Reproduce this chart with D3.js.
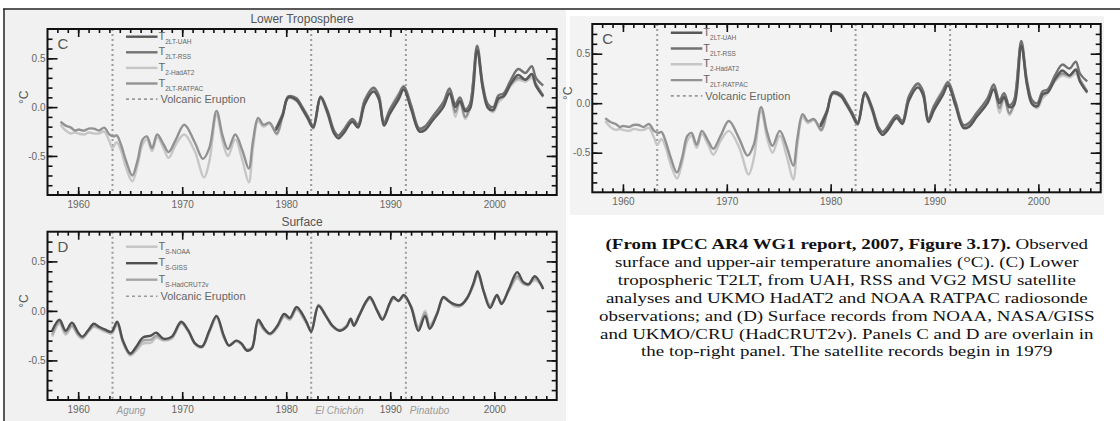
<!DOCTYPE html>
<html>
<head>
<meta charset="utf-8">
<title>IPCC AR4 Fig 3.17</title>
<script src="https://cdn.jsdelivr.net/npm/d3@7"></script>
<style>
  body { margin:0; background:#fff; }
  svg { display:block; }
</style>
</head>
<body>
<svg width="1120" height="421" font-family="Liberation Sans, Arial, sans-serif"></svg>
<script>
// ---- data ----
var xTicksLabelled = [1960, 1970, 1980, 1990, 2000];
var yTicksLabelled = [-0.5, 0.0, 0.5];

var volcanoYears = [1963.3, 1982.4, 1991.5];
var volcanoNames = ["Agung", "El Chichón", "Pinatubo"];

// panel C : lower troposphere
var t2ltRatpac = [[1958.3,-0.15],[1958.8,-0.19],[1959.3,-0.21],[1959.7,-0.24],[1960.0,-0.23],[1960.6,-0.24],[1961.0,-0.22],[1961.5,-0.22],[1962.0,-0.24],[1962.5,-0.21],[1963.0,-0.28],[1963.4,-0.30],[1963.7,-0.29],[1964.1,-0.38],[1964.6,-0.55],[1965.2,-0.70],[1965.7,-0.55],[1966.2,-0.33],[1966.6,-0.30],[1967.1,-0.42],[1967.6,-0.28],[1968.2,-0.38],[1968.7,-0.46],[1969.4,-0.33],[1970.2,-0.18],[1971.2,-0.36],[1972.0,-0.53],[1972.6,-0.42],[1973.3,-0.04],[1973.9,-0.30],[1974.4,-0.43],[1975.1,-0.28],[1975.8,-0.45],[1976.4,-0.63],[1976.8,-0.35],[1977.3,-0.11],[1977.8,-0.18],[1978.4,-0.16],[1979.1,-0.27],[1979.65,-0.08],[1980.2,0.10],[1981.0,0.08],[1981.5,0.00],[1982.05,-0.10],[1982.6,-0.20],[1983.3,0.10],[1983.95,-0.05],[1984.6,-0.25],[1985.0,-0.29],[1985.5,-0.24],[1986.35,-0.13],[1986.9,-0.19],[1987.55,0.06],[1988.4,0.19],[1988.9,0.10],[1989.4,-0.17],[1989.95,-0.04],[1990.8,0.12],[1991.3,0.21],[1992.0,0.00],[1992.8,-0.24],[1993.3,-0.22],[1994.05,-0.11],[1995.1,0.03],[1995.7,0.17],[1996.25,-0.05],[1996.7,0.07],[1997.2,-0.10],[1997.65,0.00],[1998.35,0.60],[1998.9,0.20],[1999.4,0.01],[1999.9,-0.03],[2000.4,0.08],[2000.9,0.12],[2001.6,0.24],[2002.3,0.30],[2003.0,0.28],[2003.6,0.33],[2004.0,0.24],[2004.7,0.12]];
var t2HadAT2 = [[1958.3,-0.18],[1958.8,-0.24],[1959.3,-0.27],[1959.7,-0.26],[1960.0,-0.27],[1960.6,-0.28],[1961.0,-0.26],[1961.5,-0.27],[1962.0,-0.27],[1962.5,-0.25],[1963.0,-0.35],[1963.3,-0.42],[1963.7,-0.36],[1964.1,-0.44],[1964.6,-0.62],[1965.2,-0.76],[1965.7,-0.60],[1966.2,-0.38],[1966.6,-0.33],[1967.1,-0.45],[1967.6,-0.31],[1968.2,-0.42],[1968.7,-0.52],[1969.4,-0.38],[1970.2,-0.28],[1971.2,-0.45],[1972.1,-0.72],[1972.6,-0.56],[1973.3,-0.08],[1973.9,-0.36],[1974.4,-0.50],[1975.1,-0.33],[1975.8,-0.55],[1976.4,-0.77],[1976.8,-0.42],[1977.3,-0.14],[1977.8,-0.20],[1978.4,-0.17],[1979.1,-0.28],[1979.65,-0.10],[1980.2,0.09],[1981.0,0.06],[1981.5,-0.02],[1982.05,-0.12],[1982.6,-0.22],[1983.3,0.08],[1983.95,-0.07],[1984.6,-0.27],[1985.0,-0.30],[1985.5,-0.23],[1986.35,-0.12],[1986.9,-0.18],[1987.55,0.08],[1988.4,0.20],[1988.9,0.12],[1989.4,-0.15],[1989.95,-0.02],[1990.8,0.14],[1991.3,0.22],[1992.0,0.02],[1992.8,-0.25],[1993.3,-0.22],[1994.05,-0.12],[1995.1,0.02],[1995.7,0.15],[1996.25,-0.10],[1996.7,0.05],[1997.2,-0.12],[1997.65,-0.02],[1998.35,0.58],[1998.9,0.18],[1999.4,-0.01],[1999.9,-0.05],[2000.4,0.05],[2000.9,0.10],[2001.6,0.22],[2002.3,0.28],[2003.0,0.26],[2003.6,0.30],[2004.0,0.22],[2004.7,0.10]];
var t2ltUah = [[1979.0,-0.24],[1979.65,-0.09],[1980.2,0.10],[1981.0,0.07],[1981.5,-0.01],[1982.05,-0.11],[1982.6,-0.21],[1983.3,0.10],[1983.95,-0.05],[1984.6,-0.27],[1985.0,-0.32],[1985.5,-0.27],[1986.35,-0.15],[1986.9,-0.21],[1987.55,0.03],[1988.4,0.16],[1988.9,0.08],[1989.4,-0.19],[1989.95,-0.07],[1990.8,0.08],[1991.3,0.18],[1992.0,-0.02],[1992.8,-0.25],[1993.3,-0.24],[1994.05,-0.14],[1995.1,0.00],[1995.7,0.14],[1996.25,0.00],[1996.7,0.06],[1997.2,-0.04],[1997.65,-0.02],[1998.35,0.58],[1998.9,0.19],[1999.4,-0.01],[1999.9,-0.03],[2000.4,0.09],[2000.9,0.11],[2001.6,0.24],[2002.3,0.33],[2003.0,0.28],[2003.6,0.34],[2004.0,0.22],[2004.7,0.11]];
var t2ltRss = [[1979.0,-0.22],[1979.65,-0.07],[1980.2,0.11],[1981.0,0.09],[1981.5,0.01],[1982.05,-0.09],[1982.6,-0.19],[1983.3,0.11],[1983.95,-0.03],[1984.6,-0.24],[1985.0,-0.29],[1985.5,-0.24],[1986.35,-0.12],[1986.9,-0.18],[1987.55,0.07],[1988.4,0.20],[1988.9,0.12],[1989.4,-0.16],[1989.95,-0.03],[1990.8,0.12],[1991.3,0.21],[1992.0,0.02],[1992.8,-0.22],[1993.3,-0.20],[1994.05,-0.10],[1995.1,0.05],[1995.7,0.19],[1996.25,0.03],[1996.7,0.10],[1997.2,-0.02],[1997.65,0.03],[1998.35,0.63],[1998.9,0.23],[1999.4,0.03],[1999.9,0.00],[2000.4,0.12],[2000.9,0.14],[2001.6,0.28],[2002.3,0.39],[2003.0,0.35],[2003.6,0.42],[2004.0,0.30],[2004.7,0.22]];

// panel D : surface
var tsGiss = [[1957.5,-0.20],[1958.2,-0.09],[1958.8,-0.20],[1959.4,-0.12],[1960.0,-0.22],[1960.4,-0.26],[1961.0,-0.19],[1961.5,-0.13],[1962.0,-0.16],[1962.6,-0.19],[1963.2,-0.21],[1963.75,-0.11],[1964.3,-0.30],[1965.0,-0.43],[1965.6,-0.36],[1966.2,-0.27],[1967.0,-0.25],[1967.5,-0.22],[1968.2,-0.28],[1969.0,-0.26],[1969.9,-0.11],[1970.6,-0.20],[1971.25,-0.33],[1971.9,-0.36],[1972.6,-0.20],[1973.3,-0.05],[1974.0,-0.25],[1974.5,-0.35],[1975.2,-0.30],[1975.7,-0.33],[1976.2,-0.40],[1976.7,-0.38],[1977.3,-0.09],[1977.9,-0.18],[1978.45,-0.23],[1979.15,-0.15],[1979.8,-0.03],[1980.35,-0.07],[1981.0,0.04],[1981.9,-0.10],[1982.4,-0.21],[1983.1,0.05],[1983.8,-0.05],[1984.45,-0.15],[1985.15,-0.20],[1985.8,-0.16],[1986.2,-0.08],[1986.5,-0.15],[1987.0,-0.05],[1987.7,0.10],[1988.05,0.14],[1988.75,0.00],[1989.25,-0.09],[1989.95,0.08],[1990.3,0.14],[1990.8,0.10],[1991.3,0.16],[1992.0,0.04],[1992.7,-0.20],[1993.35,-0.05],[1993.8,-0.18],[1994.5,-0.03],[1995.1,0.14],[1995.6,0.10],[1996.1,0.07],[1996.75,0.06],[1997.4,0.13],[1998.0,0.28],[1998.4,0.40],[1999.0,0.19],[1999.6,0.03],[2000.25,0.16],[2000.7,0.07],[2001.4,0.22],[2002.2,0.39],[2002.8,0.29],[2003.3,0.27],[2003.9,0.35],[2004.7,0.22]];
var tsNoaa = [[1957.5,-0.26],[1958.2,-0.13],[1958.8,-0.24],[1959.4,-0.16],[1960.0,-0.25],[1960.4,-0.28],[1961.0,-0.21],[1961.5,-0.16],[1962.0,-0.18],[1962.6,-0.21],[1963.2,-0.23],[1963.75,-0.14],[1964.3,-0.32],[1965.0,-0.45],[1965.6,-0.40],[1966.2,-0.33],[1967.0,-0.32],[1967.5,-0.27],[1968.2,-0.30],[1969.0,-0.28],[1969.9,-0.13],[1970.6,-0.21],[1971.25,-0.34],[1971.9,-0.37],[1972.6,-0.22],[1973.3,-0.07],[1974.0,-0.27],[1974.5,-0.35],[1975.2,-0.31],[1975.7,-0.34],[1976.2,-0.40],[1976.7,-0.37],[1977.3,-0.12],[1977.9,-0.20],[1978.45,-0.24],[1979.15,-0.17],[1979.8,-0.06],[1980.35,-0.09],[1981.0,0.01],[1981.9,-0.12],[1982.4,-0.19],[1983.1,0.06],[1983.8,-0.04],[1984.45,-0.15],[1985.15,-0.19],[1985.8,-0.15],[1986.2,-0.09],[1986.5,-0.13],[1987.0,-0.04],[1987.7,0.09],[1988.05,0.12],[1988.75,0.01],[1989.25,-0.07],[1989.95,0.07],[1990.3,0.12],[1990.8,0.11],[1991.3,0.14],[1992.0,0.05],[1992.7,-0.16],[1993.35,0.00],[1993.8,-0.14],[1994.5,-0.02],[1995.1,0.14],[1995.6,0.11],[1996.1,0.05],[1996.75,0.05],[1997.4,0.14],[1998.0,0.27],[1998.4,0.36],[1999.0,0.20],[1999.6,0.06],[2000.25,0.15],[2000.7,0.09],[2001.4,0.20],[2002.2,0.33],[2002.8,0.27],[2003.3,0.27],[2003.9,0.31],[2004.7,0.24]];
var tsHadcrut = [[1957.5,-0.24],[1958.2,-0.11],[1958.8,-0.22],[1959.4,-0.15],[1960.0,-0.24],[1960.4,-0.27],[1961.0,-0.20],[1961.5,-0.15],[1962.0,-0.17],[1962.6,-0.20],[1963.2,-0.22],[1963.75,-0.13],[1964.3,-0.31],[1965.0,-0.44],[1965.6,-0.38],[1966.2,-0.30],[1967.0,-0.29],[1967.5,-0.25],[1968.2,-0.29],[1969.0,-0.27],[1969.9,-0.12],[1970.6,-0.21],[1971.25,-0.33],[1971.9,-0.36],[1972.6,-0.21],[1973.3,-0.06],[1974.0,-0.26],[1974.5,-0.35],[1975.2,-0.30],[1975.7,-0.33],[1976.2,-0.39],[1976.7,-0.37],[1977.3,-0.11],[1977.9,-0.19],[1978.45,-0.23],[1979.15,-0.16],[1979.8,-0.05],[1980.35,-0.08],[1981.0,0.02],[1981.9,-0.11],[1982.4,-0.20],[1983.1,0.06],[1983.8,-0.05],[1984.45,-0.16],[1985.15,-0.20],[1985.8,-0.15],[1986.2,-0.09],[1986.5,-0.14],[1987.0,-0.05],[1987.7,0.09],[1988.05,0.13],[1988.75,0.00],[1989.25,-0.08],[1989.95,0.07],[1990.3,0.13],[1990.8,0.10],[1991.3,0.15],[1992.0,0.04],[1992.7,-0.17],[1993.35,-0.02],[1993.8,-0.16],[1994.5,-0.03],[1995.1,0.13],[1995.6,0.10],[1996.1,0.06],[1996.75,0.05],[1997.4,0.13],[1998.0,0.26],[1998.4,0.38],[1999.0,0.19],[1999.6,0.05],[2000.25,0.15],[2000.7,0.08],[2001.4,0.21],[2002.2,0.35],[2002.8,0.28],[2003.3,0.26],[2003.9,0.33],[2004.7,0.23]];

var captionLines = [
  ["(From IPCC AR4 WG1 report, 2007, Figure 3.17).", " Observed"],
  ["", "surface and upper-air temperature anomalies (°C). (C) Lower"],
  ["", "tropospheric T2LT, from UAH, RSS and VG2 MSU satellite"],
  ["", "analyses and UKMO HadAT2 and NOAA RATPAC radiosonde"],
  ["", "observations; and (D) Surface records from NOAA, NASA/GISS"],
  ["", "and UKMO/CRU (HadCRUT2v).  Panels C and D are overlain in"],
  ["", "the top-right panel.  The satellite records begin in 1979"]
];

// ---- series styling ----
var seriesC = [
  {data:t2HadAT2,   color:"#c6c6c6", sub:"2-HadAT2"},
  {data:t2ltRatpac, color:"#929292", sub:"2LT-RATPAC"},
  {data:t2ltRss,    color:"#727272", sub:"2LT-RSS"},
  {data:t2ltUah,    color:"#585858", sub:"2LT-UAH"}
];
var legendOrderC = [3, 2, 0, 1];
var seriesD = [
  {data:tsNoaa,    color:"#c4c4c4", sub:"S-NOAA"},
  {data:tsHadcrut, color:"#a6a6a6", sub:"S-HadCRUT2v"},
  {data:tsGiss,    color:"#505050", sub:"S-GISS"}
];
var legendOrderD = [0, 2, 1];

var svg = d3.select("svg");

// page furniture
svg.append("rect").attr("x",5).attr("y",10).attr("width",561).attr("height",411).attr("fill","#f1f1f1");
svg.append("rect").attr("x",570).attr("y",16).attr("width",534).attr("height",199).attr("fill","#f3f3f3");
svg.append("line").attr("x1",3).attr("x2",1120).attr("y1",9).attr("y2",9).attr("stroke","#222").attr("stroke-width",1.5);
svg.append("line").attr("x1",4).attr("x2",4).attr("y1",9).attr("y2",421).attr("stroke","#222").attr("stroke-width",1.5);

var panels = [
  {left:47.5, right:556.7, top:29,    bottom:195,   title:"Lower Troposphere", letter:"C", series:seriesC, order:legendOrderC, legTop:7.7,  legGap:15.6, names:false},
  {left:47.5, right:556.7, top:231.7, bottom:400,   title:"Surface",           letter:"D", series:seriesD, order:legendOrderD, legTop:15,   legGap:16.5, names:true},
  {left:592.3, right:1100.7, top:24,  bottom:192.3, title:null,                letter:"C", series:seriesC, order:legendOrderC, legTop:8.7,  legGap:15.8, names:false}
];

panels.forEach(function(p, pi){
  var x = d3.scaleLinear().domain([1957.05, 2006]).range([p.left, p.right]);
  var y = d3.scaleLinear().domain([-0.9, 0.8]).range([p.bottom, p.top]);
  var g = svg.append("g");
  var clipId = "clip" + pi;
  g.append("clipPath").attr("id", clipId).append("rect")
    .attr("x", p.left).attr("y", p.top).attr("width", p.right-p.left).attr("height", p.bottom-p.top);

  if (p.title) {
    g.append("text").attr("x", (p.left+p.right)/2).attr("y", p.top-6)
      .attr("text-anchor","middle").attr("font-size",12).attr("fill","#555").text(p.title);
  }

  // volcanic eruptions
  g.selectAll(".volc").data(volcanoYears).enter().append("line")
    .attr("x1", function(d){return x(d);}).attr("x2", function(d){return x(d);})
    .attr("y1", p.top).attr("y2", p.bottom)
    .attr("stroke","#9a9a9a").attr("stroke-width",2).attr("stroke-dasharray","2,3");

  if (p.names) {
    g.selectAll(".vname").data(volcanoNames).enter().append("text")
      .attr("x", function(d,i){return x(volcanoYears[i]) + 4;})
      .attr("y", p.bottom + 14)
      .attr("font-size",10).attr("font-style","italic").attr("fill","#9a9a9a")
      .text(function(d){return d;});
  }

  // series
  var line = d3.line().x(function(d){return x(d[0]);}).y(function(d){return y(d[1]);})
    .curve(d3.curveCatmullRom.alpha(0.5));
  g.append("g").attr("clip-path","url(#"+clipId+")")
    .selectAll("path").data(p.series).enter().append("path")
    .attr("d", function(s){return line(s.data);})
    .attr("fill","none").attr("stroke", function(s){return s.color;})
    .attr("stroke-width",2.4).attr("stroke-linejoin","round");

  // axes with inward ticks
  var yearTicks = d3.range(1958, 2006);
  var tenthTicks = d3.range(-8, 8).map(function(i){return i/10;});
  function strip(sel){ sel.select(".domain").remove(); sel.selectAll("line").attr("stroke","#111").attr("stroke-width",1.6); }

  g.append("g").attr("transform","translate(0,"+p.bottom+")")
    .call(d3.axisBottom(x).tickValues(yearTicks).tickSize(-4).tickFormat("")).call(strip);
  g.append("g").attr("transform","translate(0,"+p.top+")")
    .call(d3.axisTop(x).tickValues(yearTicks).tickSize(-4).tickFormat("")).call(strip);
  var xb = g.append("g").attr("transform","translate(0,"+p.bottom+")")
    .call(d3.axisBottom(x).tickValues(xTicksLabelled).tickSize(-8).tickPadding(6).tickFormat(d3.format("d")));
  strip(xb);
  xb.attr("font-family",null);
  xb.selectAll("text").attr("font-size",10).attr("fill","#666");
  g.append("g").attr("transform","translate(0,"+p.top+")")
    .call(d3.axisTop(x).tickValues(xTicksLabelled).tickSize(-8).tickFormat("")).call(strip);

  g.append("g").attr("transform","translate("+p.left+",0)")
    .call(d3.axisLeft(y).tickValues(tenthTicks).tickSize(-5).tickFormat("")).call(strip);
  g.append("g").attr("transform","translate("+p.right+",0)")
    .call(d3.axisRight(y).tickValues(tenthTicks).tickSize(-5).tickFormat("")).call(strip);
  var yl = g.append("g").attr("transform","translate("+p.left+",0)")
    .call(d3.axisLeft(y).tickValues(yTicksLabelled).tickSize(-10).tickPadding(2).tickFormat(d3.format(".1f")));
  strip(yl);
  yl.attr("font-family",null);
  yl.selectAll("text").attr("font-size",10).attr("fill","#666")
    .text(function(d){return d3.format(".1f")(d).replace("−","-");});
  g.append("g").attr("transform","translate("+p.right+",0)")
    .call(d3.axisRight(y).tickValues(yTicksLabelled).tickSize(-10).tickFormat("")).call(strip);

  // frame
  g.append("rect").attr("x",p.left).attr("y",p.top).attr("width",p.right-p.left).attr("height",p.bottom-p.top)
    .attr("fill","none").attr("stroke","#111").attr("stroke-width",2);

  // unit label
  g.append("text").attr("transform","translate("+(p.left-20)+","+y(0.1)+") rotate(-90)")
    .attr("text-anchor","middle").attr("font-size",12).attr("fill","#555").text("°C");

  // panel letter
  g.append("text").attr("x", p.left+10).attr("y", p.top+20)
    .attr("font-size",15).attr("fill","#555").text(p.letter);

  // legend
  var lx0 = p.left + 78.5, lx1 = p.left + 110;
  var rows = p.order.map(function(k){return p.series[k];});
  rows.forEach(function(s, i){
    var ly = p.top + p.legTop + i*p.legGap;
    g.append("line").attr("x1",lx0).attr("x2",lx1).attr("y1",ly).attr("y2",ly)
      .attr("stroke",s.color).attr("stroke-width",2.4);
    var t = g.append("text").attr("x",lx1+1).attr("y",ly+3).attr("font-size",11).attr("fill","#666");
    t.append("tspan").text("T");
    t.append("tspan").attr("dy",4).attr("font-size",6.5).text(s.sub);
  });
  var vy = p.top + p.legTop + rows.length*p.legGap;
  g.append("line").attr("x1",lx0).attr("x2",lx1).attr("y1",vy).attr("y2",vy)
    .attr("stroke","#9a9a9a").attr("stroke-width",1.6).attr("stroke-dasharray","3,3");
  g.append("text").attr("x",lx1+3).attr("y",vy+4).attr("font-size",11).attr("fill","#666").text("Volcanic Eruption");
});

// caption
var cap = svg.append("g").attr("font-family","Liberation Serif, Times New Roman, serif");
var capCx = 847, capY0 = 249, capGap = 17.9;
var capTexts = captionLines.map(function(l, i){
  var t = cap.append("text").attr("y", capY0 + i*capGap).attr("font-size",15).attr("fill","#111");
  if (l[0]) t.append("tspan").attr("font-weight","bold").text(l[0]);
  t.append("tspan").text(l[1]);
  return t;
});
var sx = 483 / capTexts[0].node().getComputedTextLength();
capTexts.forEach(function(t){
  var w = t.node().getComputedTextLength();
  var yy = +t.attr("y");
  t.attr("y", null).attr("transform","translate("+(capCx - w*sx/2)+","+yy+") scale("+sx+",1)");
});
</script>
</body>
</html>
